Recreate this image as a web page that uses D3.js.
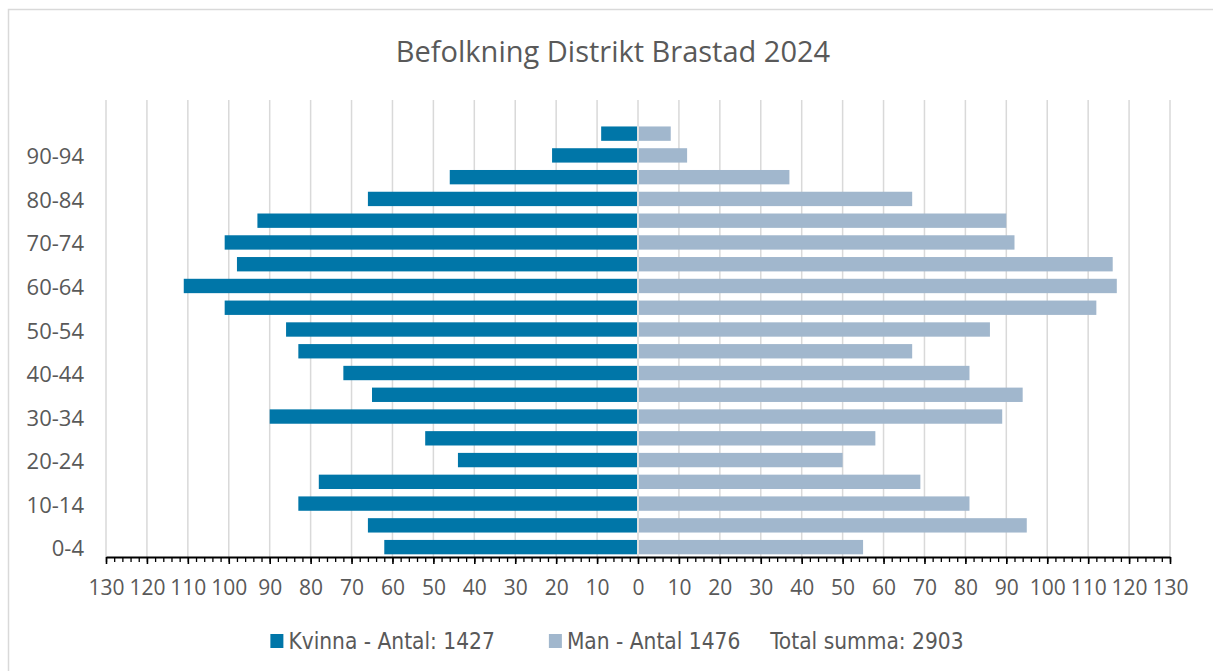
<!DOCTYPE html>
<html>
<head>
<meta charset="utf-8">
<script src="https://cdn.jsdelivr.net/npm/d3@7"></script>
<style>
  body { margin: 0; background: #fff; }
  svg { display: block; }
  .axis text { font-family: 'Open Sans', sans-serif; fill: #595959; }
</style>
</head>
<body>
<svg id="chart"></svg>
<script>
// age groups, bottom to top
const ageGroups = ['0-4', '5-9', '10-14', '15-19', '20-24', '25-29', '30-34', '35-39', '40-44', '45-49',
                   '50-54', '55-59', '60-64', '65-69', '70-74', '75-79', '80-84', '85-89', '90-94', '95+'];
const women = [62, 66, 83, 78, 44, 52, 90, 65, 72, 83, 86, 101, 111, 98, 101, 93, 66, 46, 21, 9];
const men   = [55, 95, 81, 69, 50, 58, 89, 94, 81, 67, 86, 112, 117, 116, 92, 90, 67, 37, 12, 8];
const seriesNames = ['Kvinna - Antal: ', 'Man - Antal '];
const totalLabel = 'Total summa: ';
const xTicks = d3.range(-130, 131, 10);

const title = 'Befolkning Distrikt Brastad 2024';
const colors = ['#0076A8', '#A1B7CD'];

// dimensions
const W = 1213, H = 671;
const plot = {left: 106, right: 1170, top: 100, bottom: 557};
const step = (plot.bottom - plot.top) / (ageGroups.length + 1); // one empty slot on top

const svg = d3.select('#chart').attr('width', W).attr('height', H);

// chart border
svg.append('rect')
  .attr('x', 8.5).attr('y', 9.5)
  .attr('width', W).attr('height', H)
  .attr('fill', '#fff')
  .attr('stroke', '#d9d9d9')
  .attr('stroke-width', 1.5);

// scales
const scaleX = d3.scaleLinear()
  .domain([-130, 130])
  .range([plot.left, plot.right]);

const scaleY = d3.scaleBand()
  .domain(ageGroups)
  .range([plot.bottom + 1, plot.bottom + 1 - step * ageGroups.length])
  .paddingInner(0.34)
  .paddingOuter(0.17);

// gridlines
svg.append('g')
  .selectAll('line')
  .data(xTicks)
  .enter()
  .append('line')
  .attr('x1', d => scaleX(d)).attr('x2', d => scaleX(d))
  .attr('y1', plot.top).attr('y2', plot.bottom)
  .attr('stroke', '#d9d9d9')
  .attr('stroke-width', 1.5);

// bars: women to the left, men to the right, small gap at zero
const gap = 1;
svg.append('g')
  .selectAll('rect')
  .data(women)
  .enter()
  .append('rect')
  .attr('x', d => scaleX(-d))
  .attr('y', (d, i) => scaleY(ageGroups[i]))
  .attr('width', d => scaleX(0) - scaleX(-d) - gap)
  .attr('height', scaleY.bandwidth())
  .attr('fill', colors[0]);

svg.append('g')
  .selectAll('rect')
  .data(men)
  .enter()
  .append('rect')
  .attr('x', scaleX(0) + gap)
  .attr('y', (d, i) => scaleY(ageGroups[i]))
  .attr('width', d => scaleX(d) - scaleX(0) - gap)
  .attr('height', scaleY.bandwidth())
  .attr('fill', colors[1]);

// x axis, minor ticks every 2
const minorAxis = svg.append('g')
  .attr('transform', 'translate(0,' + plot.bottom + ')')
  .call(d3.axisBottom(scaleX).tickValues(d3.range(-130, 131, 2)).tickSize(5).tickFormat(''));
minorAxis.select('.domain').remove();
minorAxis.selectAll('line').attr('stroke', '#000').attr('stroke-width', 1.3);

const xAxis = svg.append('g')
  .attr('class', 'axis')
  .attr('transform', 'translate(0,' + plot.bottom + ')')
  .call(d3.axisBottom(scaleX).tickValues(xTicks).tickSize(7).tickSizeOuter(0).tickPadding(16).tickFormat(d => Math.abs(d)));
xAxis.select('.domain').attr('stroke', '#000').attr('stroke-width', 2);
xAxis.selectAll('line').attr('stroke', '#000').attr('stroke-width', 1.6);
xAxis.selectAll('text').style('font-size', '21px');

// y axis, every second label
const yAxis = svg.append('g')
  .attr('class', 'axis')
  .attr('transform', 'translate(90,2)')
  .call(d3.axisLeft(scaleY).tickValues(ageGroups.filter((d, i) => i % 2 === 0)).tickSize(0).tickPadding(6));
yAxis.select('.domain').remove();
yAxis.selectAll('text').style('font-size', '22px');

// title
svg.append('text')
  .attr('x', 613)
  .attr('y', 50)
  .attr('text-anchor', 'middle')
  .attr('dominant-baseline', 'central')
  .style('font-family', "'Open Sans', sans-serif")
  .style('font-size', '29px')
  .style('fill', '#595959')
  .text(title);

// legend
const legendItems = [
  {label: seriesNames[0] + d3.sum(women), color: colors[0]},
  {label: seriesNames[1] + d3.sum(men), color: colors[1]},
  {label: totalLabel + (d3.sum(women) + d3.sum(men)), color: null}
];

const legend = svg.append('g');
let lx = 0;
legendItems.forEach(function(item, i) {
  const g = legend.append('g').attr('transform', 'translate(' + lx + ',0)');
  let tx = 0;
  if (item.color) {
    g.append('rect')
      .attr('x', 0).attr('y', -7)
      .attr('width', 13).attr('height', 14)
      .attr('fill', item.color);
    tx = 18;
  }
  const t = g.append('text')
    .attr('x', tx)
    .attr('dominant-baseline', 'central')
    .style('font-family', "'Liberation Sans Narrow', 'DejaVu Sans Condensed', sans-serif")
    .style('font-size', '22.5px')
    .style('fill', '#595959')
    .text(item.label);
  lx += tx + t.node().getComputedTextLength() + (i === 0 ? 54 : 30);
});
const legendWidth = legend.node().getBBox().width;
legend.attr('transform', 'translate(' + (617 - legendWidth / 2) + ',641)');
</script>
</body>
</html>
